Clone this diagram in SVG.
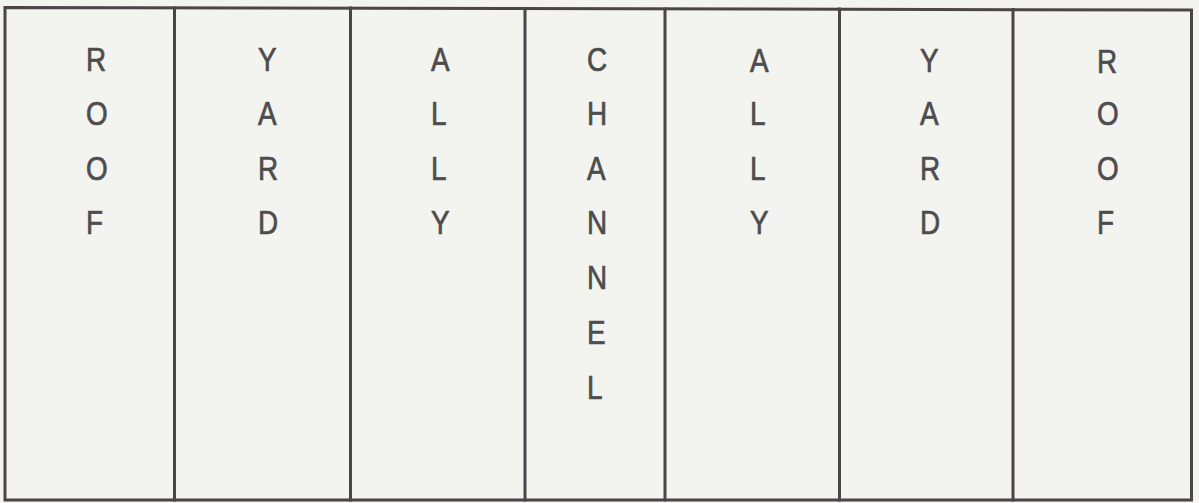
<svg xmlns="http://www.w3.org/2000/svg" width="1199" height="503" viewBox="0 0 1199 503">
<style>
.bg{fill:#f3f3f0}
.ln{fill:none;stroke:#4b4547;stroke-width:3;stroke-linecap:square}
.t{font-family:"Liberation Sans",Arial,sans-serif;font-size:34px;fill:#4e4c4c;stroke:#4e4c4c;stroke-width:0.7}
</style>
<rect class="bg" x="0" y="0" width="1199" height="503"/>
<g id="frame">
<path class="ln" d="M5,7.5 L1191.5,10 L1191.5,500 L5,500 Z"/>
</g>
<g id="connectors">
<line class="ln" x1="174.5" y1="8" x2="174.5" y2="500"/>
<line class="ln" x1="350.5" y1="8" x2="350.5" y2="500"/>
<line class="ln" x1="525" y1="8.5" x2="525" y2="500"/>
<line class="ln" x1="665" y1="9" x2="665" y2="500"/>
<line class="ln" x1="839.5" y1="9" x2="839.5" y2="500"/>
<line class="ln" x1="1013" y1="9.5" x2="1013" y2="500"/>
</g>
<g id="roof-left" transform="translate(86,0) scale(0.82,1)">
<text class="t" x="0" y="71">R</text>
<text class="t" x="0" y="125.5">O</text>
<text class="t" x="0" y="180">O</text>
<text class="t" x="0" y="234.5">F</text>
</g>
<g id="yard-left" transform="translate(258,0) scale(0.82,1)">
<text class="t" x="0" y="71">Y</text>
<text class="t" x="0" y="125.5">A</text>
<text class="t" x="0" y="180">R</text>
<text class="t" x="0" y="234.5">D</text>
</g>
<g id="ally-left" transform="translate(431,0) scale(0.82,1)">
<text class="t" x="0" y="71">A</text>
<text class="t" x="0" y="125.5">L</text>
<text class="t" x="0" y="180">L</text>
<text class="t" x="0" y="234.5">Y</text>
</g>
<g id="channel" transform="translate(587,0) scale(0.82,1)">
<text class="t" x="0" y="71">C</text>
<text class="t" x="0" y="125.5">H</text>
<text class="t" x="0" y="180">A</text>
<text class="t" x="0" y="234.5">N</text>
<text class="t" x="0" y="289">N</text>
<text class="t" x="0" y="344">E</text>
<text class="t" x="0" y="399">L</text>
</g>
<g id="ally-right" transform="translate(750,0) scale(0.82,1)">
<text class="t" x="0" y="72">A</text>
<text class="t" x="0" y="125.5">L</text>
<text class="t" x="0" y="180">L</text>
<text class="t" x="0" y="234.5">Y</text>
</g>
<g id="yard-right" transform="translate(920,0) scale(0.82,1)">
<text class="t" x="0" y="72">Y</text>
<text class="t" x="0" y="125.5">A</text>
<text class="t" x="0" y="180">R</text>
<text class="t" x="0" y="234.5">D</text>
</g>
<g id="roof-right" transform="translate(1097,0) scale(0.82,1)">
<text class="t" x="0" y="73">R</text>
<text class="t" x="0" y="125.5">O</text>
<text class="t" x="0" y="180">O</text>
<text class="t" x="0" y="234.5">F</text>
</g>
</svg>
